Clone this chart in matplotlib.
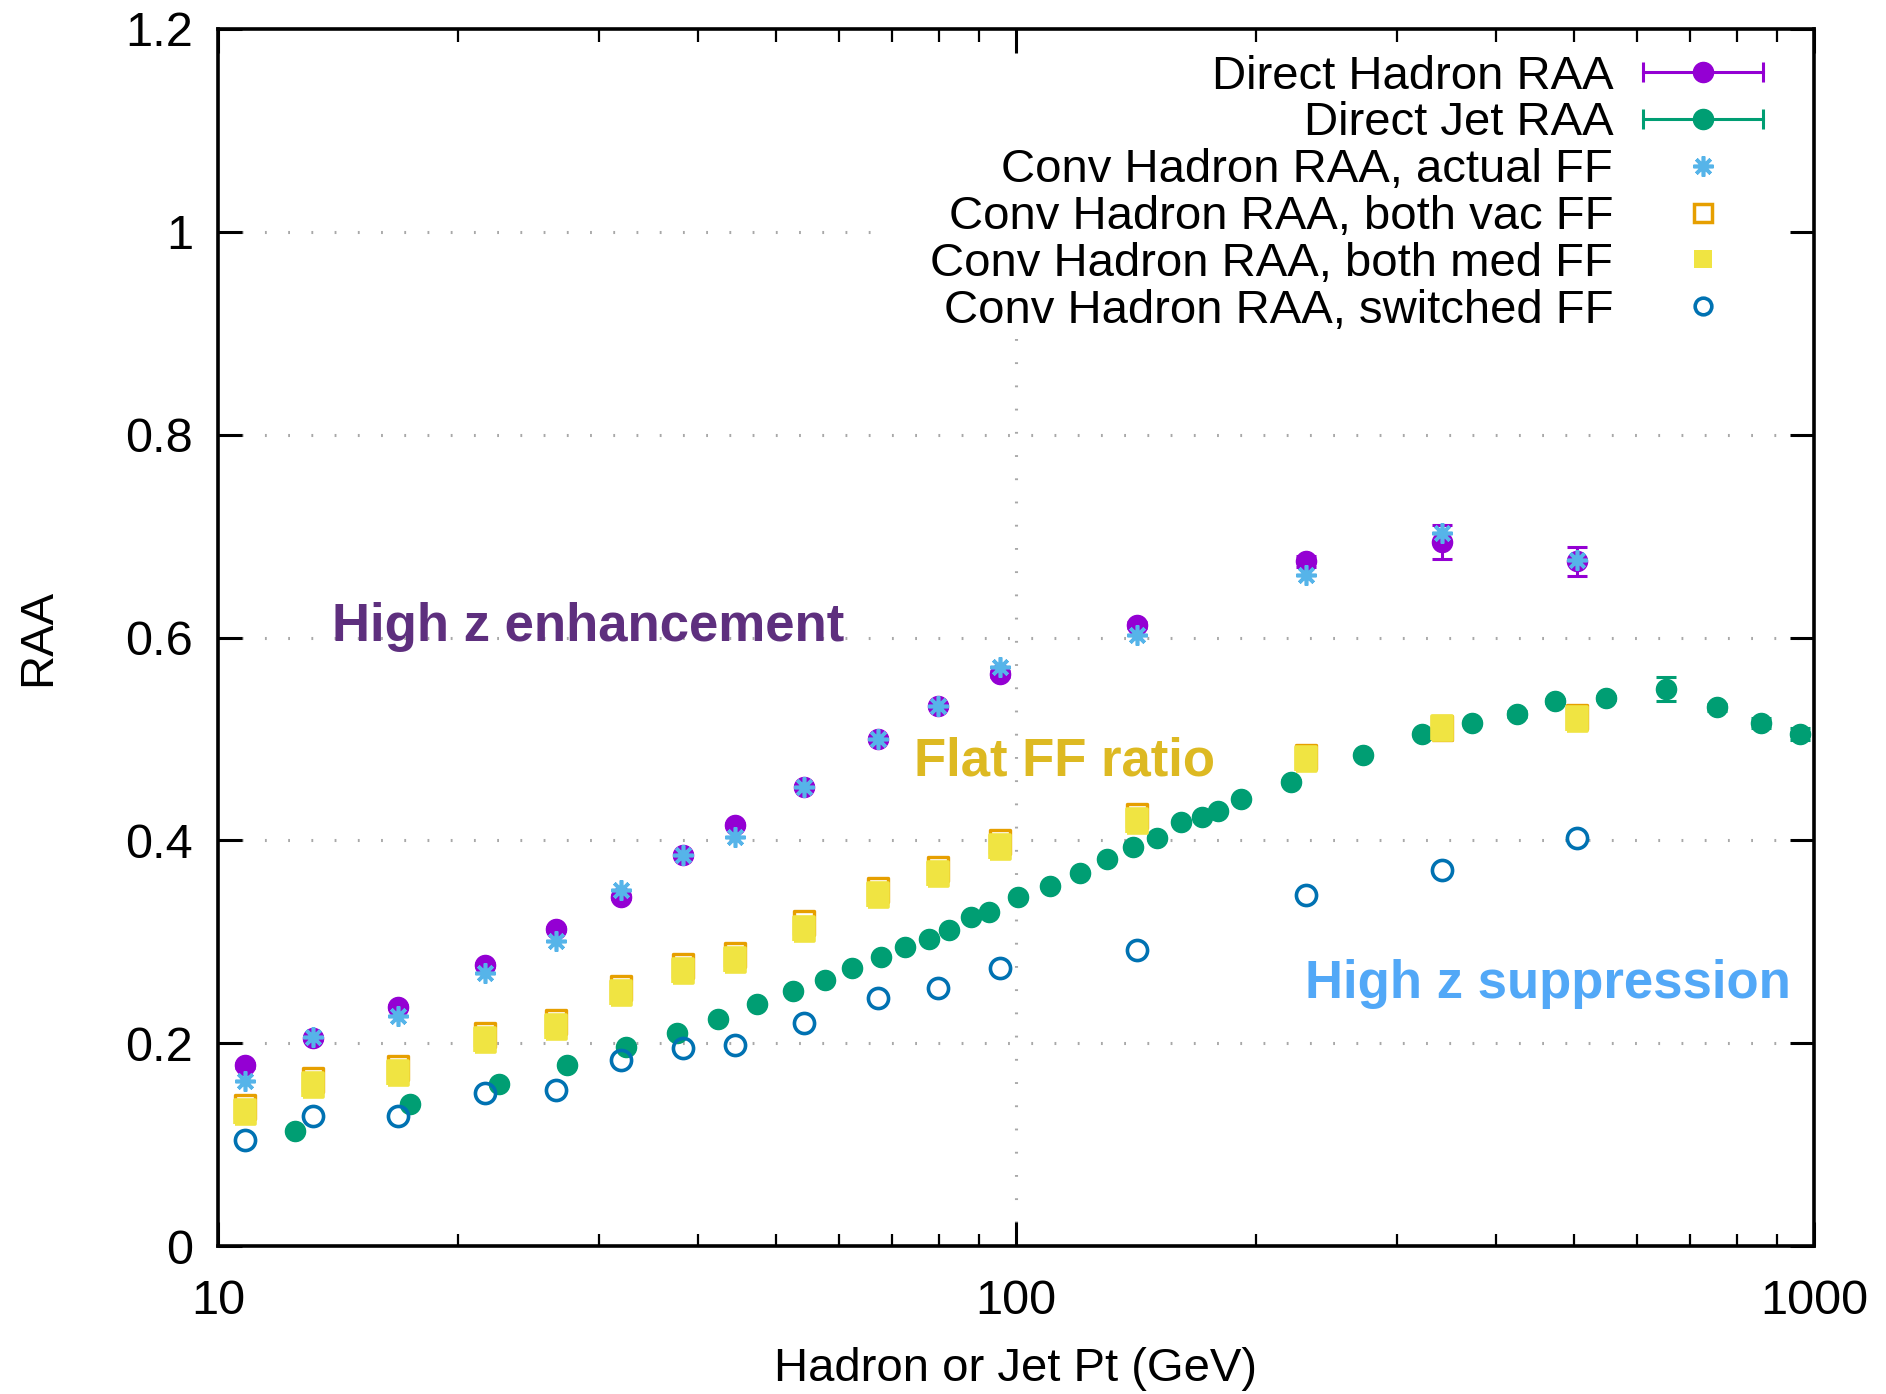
import matplotlib
matplotlib.use("Agg")
import matplotlib.pyplot as plt
from matplotlib.lines import Line2D
from matplotlib.legend_handler import HandlerBase
from matplotlib.patches import Rectangle
from matplotlib.ticker import NullFormatter, LogLocator

plt.rcParams["font.family"] = ["Liberation Sans", "DejaVu Sans"]

# ---- data ----
hadron_pt = [10.8, 13.15, 16.8, 21.6, 26.5, 32.0, 38.3, 44.5, 54.3, 67.2,
             79.9, 95.5, 141.6, 231.0, 342.0, 504.0]
direct_hadron_raa = [0.178, 0.205, 0.236, 0.277, 0.313, 0.344, 0.386, 0.415,
                     0.453, 0.500, 0.532, 0.564, 0.612, 0.675, 0.694, 0.675]
direct_hadron_err = [0.002, 0.002, 0.002, 0.002, 0.002, 0.002, 0.002, 0.002,
                     0.002, 0.002, 0.002, 0.003, 0.003, 0.005, 0.017, 0.014]
conv_actual_ff = [0.163, 0.206, 0.227, 0.269, 0.301, 0.351, 0.386, 0.403,
                  0.453, 0.500, 0.532, 0.571, 0.602, 0.662, 0.703, 0.676]
conv_vac_ff = [0.137, 0.164, 0.176, 0.208, 0.221, 0.254, 0.276, 0.287,
               0.318, 0.351, 0.372, 0.398, 0.424, 0.482, 0.511, 0.522]
conv_med_ff = [0.132, 0.159, 0.171, 0.203, 0.216, 0.249, 0.271, 0.282,
               0.313, 0.346, 0.367, 0.393, 0.419, 0.480, 0.511, 0.520]
conv_switched_ff = [0.105, 0.128, 0.128, 0.151, 0.154, 0.183, 0.195, 0.198,
                    0.220, 0.245, 0.254, 0.274, 0.292, 0.346, 0.371, 0.402]

jet_pt = [12.5, 17.4, 22.5, 27.4, 32.5, 37.6, 42.3, 47.4, 52.5, 57.7, 62.3,
          67.7, 72.6, 77.7, 82.5, 87.7, 92.4, 100.5, 110.4, 120.2, 130.0,
          140.3, 150.3, 160.8, 170.8, 179.0, 191.3, 221.4, 271.9, 322.4,
          373.0, 424.3, 474.3, 549.5, 651.6, 755.0, 857.8, 959.9]
direct_jet_raa = [0.113, 0.140, 0.160, 0.178, 0.196, 0.210, 0.224, 0.239,
                  0.251, 0.262, 0.274, 0.285, 0.295, 0.303, 0.312, 0.324,
                  0.329, 0.344, 0.355, 0.368, 0.382, 0.393, 0.402, 0.418,
                  0.423, 0.429, 0.441, 0.458, 0.484, 0.505, 0.516, 0.525,
                  0.537, 0.540, 0.549, 0.531, 0.516, 0.505]
direct_jet_err = [0.001, 0.001, 0.001, 0.001, 0.001, 0.001, 0.001, 0.001,
                  0.001, 0.001, 0.001, 0.001, 0.001, 0.001, 0.001, 0.001,
                  0.001, 0.001, 0.001, 0.001, 0.001, 0.001, 0.001, 0.001,
                  0.001, 0.001, 0.001, 0.001, 0.001, 0.001, 0.001, 0.003,
                  0.002, 0.002, 0.012, 0.003, 0.005, 0.006]

y_ticks = [0, 0.2, 0.4, 0.6, 0.8, 1.0, 1.2]
y_tick_labels = ["0", "0.2", "0.4", "0.6", "0.8", "1", "1.2"]
x_ticks = [10, 100, 1000]
x_tick_labels = ["10", "100", "1000"]

legend_labels = ["Direct Hadron RAA", "Direct Jet RAA",
                 "Conv Hadron RAA, actual FF", "Conv Hadron RAA, both vac FF",
                 "Conv Hadron RAA, both med FF", "Conv Hadron RAA, switched FF"]

# ---- styles ----
C_HADRON = "#9400d3"
C_JET = "#009e73"
C_ACTUAL = "#56b4e9"
C_VAC = "#e69f00"
C_MED = "#f0e442"
C_SWITCH = "#0072b2"
STAR = (8, 2, 0)
BOX = [(-0.42, -0.5), (0.42, -0.5), (0.42, 0.5), (-0.42, 0.5), (-0.42, -0.5)]
MS = 14.5

W, H = 1886, 1394
fig = plt.figure(figsize=(W / 100, H / 100), dpi=100)
ax = fig.add_axes([218 / W, 1 - 1246 / H, (1814 - 218) / W, (1246 - 29) / H])

ax.set_xscale("log")
ax.set_xlim(10, 1000)
ax.set_ylim(0, 1.2)

# grid: dotted, only at major y ticks and the x=100 decade
for yv in y_ticks[1:-1]:
    ax.axhline(yv, color="#a8a8a8", lw=2.2, ls=(0, (0.6, 7)), zorder=0.5)
ax.axvline(100, color="#a8a8a8", lw=2.2, ls=(0, (0.6, 7)), zorder=0.5)

# opaque key area
ax.add_patch(Rectangle((0.41, 0.752), 0.572, 0.26, transform=ax.transAxes,
                       facecolor="white", edgecolor="none", zorder=0.8))

ax.errorbar(hadron_pt, direct_hadron_raa, yerr=direct_hadron_err, fmt="o",
            color=C_HADRON, ms=MS, elinewidth=2.2, capsize=7, capthick=2.2, zorder=3)
ax.errorbar(jet_pt, direct_jet_raa, yerr=direct_jet_err, fmt="o",
            color=C_JET, ms=MS, elinewidth=2.2, capsize=7, capthick=2.2, zorder=3)
ax.plot(hadron_pt, conv_actual_ff, ls="none", marker=STAR, ms=MS, mew=2.6,
        color=C_ACTUAL, zorder=4)
ax.plot(hadron_pt, conv_vac_ff, ls="none", marker=BOX, ms=17, mew=2.4,
        mfc="white", mec=C_VAC, zorder=5)
ax.plot(hadron_pt, conv_med_ff, ls="none", marker=BOX, ms=17, mew=2.6,
        mfc=C_MED, mec=C_MED, zorder=6)
ax.plot(hadron_pt, conv_switched_ff, ls="none", marker="o", ms=MS, mew=2.6,
        mfc="none", mec=C_SWITCH, zorder=7)

# annotations (figure-pixel positions measured from the top-left)
def note(x, y, s, color):
    fig.text(x / W, 1 - y / H, s, fontsize=38, fontweight="bold", color=color,
             va="center", ha="left", zorder=8)

note(332, 627, "High z enhancement", "#5e2f7e")
note(914, 761, "Flat FF ratio", "#ddb922")
note(1305, 984, "High z suppression", "#52a8f7")


class HBarHandler(HandlerBase):
    """Horizontal line with end caps and a dot, in gnuplot key style."""

    def create_artists(self, legend, orig_handle, xdescent, ydescent,
                       width, height, fontsize, trans):
        c = orig_handle.get_color()
        y = height / 2 - ydescent
        x0, x1 = -xdescent, width - xdescent
        line = Line2D([x0, x1], [y, y], color=c, lw=2.2)
        caps = Line2D([x0, x1], [y, y], ls="none", marker="|", ms=14,
                      mew=2.2, color=c)
        dot = Line2D([(x0 + x1) / 2], [y], ls="none", marker="o", ms=MS,
                     color=c)
        for a in (line, caps, dot):
            a.set_transform(trans)
        return [line, caps, dot]


h_hadron = Line2D([], [], color=C_HADRON)
h_jet = Line2D([], [], color=C_JET)
h_actual = Line2D([], [], ls="none", marker=STAR, ms=MS, mew=2.6, color=C_ACTUAL)
h_vac = Line2D([], [], ls="none", marker="s", ms=13, mew=2.5, mfc="white", mec=C_VAC)
h_med = Line2D([], [], ls="none", marker="s", ms=13, mew=0, color=C_MED)
h_switch = Line2D([], [], ls="none", marker="o", ms=12, mew=2.6, mfc="none", mec=C_SWITCH)

leg = ax.legend([h_hadron, h_jet, h_actual, h_vac, h_med, h_switch], legend_labels,
                handler_map={h_hadron: HBarHandler(), h_jet: HBarHandler()},
                loc="upper right", bbox_to_anchor=(0.968, 0.979), markerfirst=False,
                frameon=False, fontsize=34, handlelength=2.55, handletextpad=0.62,
                labelspacing=0.06, borderpad=0, borderaxespad=0)
for t in leg.get_texts():
    t.set_ha("right")
leg._legend_box.align = "right"
leg.set_zorder(10)

# ticks
ax.set_yticks(y_ticks)
ax.set_yticklabels(y_tick_labels)
ax.set_xticks(x_ticks)
ax.set_xticklabels(x_tick_labels)
ax.xaxis.set_minor_locator(LogLocator(base=10, subs=range(2, 10)))
ax.xaxis.set_minor_formatter(NullFormatter())
ax.tick_params(axis="both", which="major", direction="in", length=17, width=2.2,
               top=True, right=True, labelsize=35)
ax.tick_params(axis="y", which="major", pad=18)
ax.tick_params(axis="x", which="major", pad=24)
ax.tick_params(axis="x", which="minor", direction="in", length=9, width=1.6,
               top=True, bottom=True)
for s in ax.spines.values():
    s.set_linewidth(2.6)

ax.set_xlabel("Hadron or Jet Pt (GeV)", fontsize=34, labelpad=16)
ax.set_ylabel("RAA", fontsize=34, labelpad=47)

fig.savefig("out.png", dpi=100)
